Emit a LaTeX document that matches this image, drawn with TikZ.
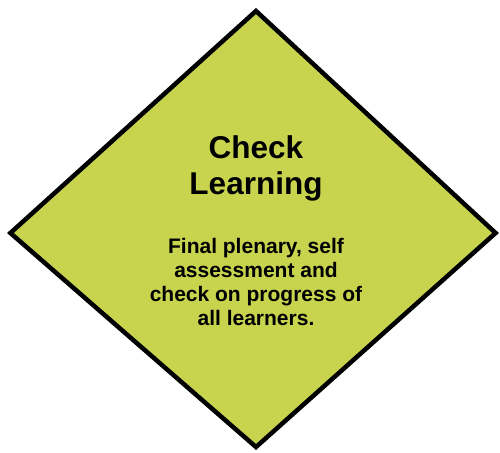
\documentclass[tikz,border=0pt]{standalone}
\usepackage{fontspec}
\setmainfont{Liberation Sans}
\definecolor{lime}{RGB}{201,212,78}
\tikzset{
  diamondbox/.style={draw=black, fill=lime, line width=4.5pt, line join=miter},
  titletext/.style={font=\bfseries\fontsize{31.5}{36}\selectfont, align=center, inner sep=0pt},
  bodytext/.style={font=\bfseries\fontsize{21}{23.7}\selectfont, align=center, inner sep=0pt}
}
\begin{document}
\begin{tikzpicture}[x=1pt,y=-1pt]
\useasboundingbox (0,0) rectangle (500,452);
\coordinate (top) at (256,11);
\coordinate (right) at (495.6,233);
\coordinate (bottom) at (256,447);
\coordinate (left) at (10.4,233);
\draw[diamondbox] (top) -- (right) -- (bottom) -- (left) -- cycle;
\node[titletext] (title) at (256,168) {Check\\Learning};
\node[bodytext] (body) at (256,282) {Final plenary, self\\assessment and\\check on progress of\\all learners.};
\end{tikzpicture}
\end{document}
